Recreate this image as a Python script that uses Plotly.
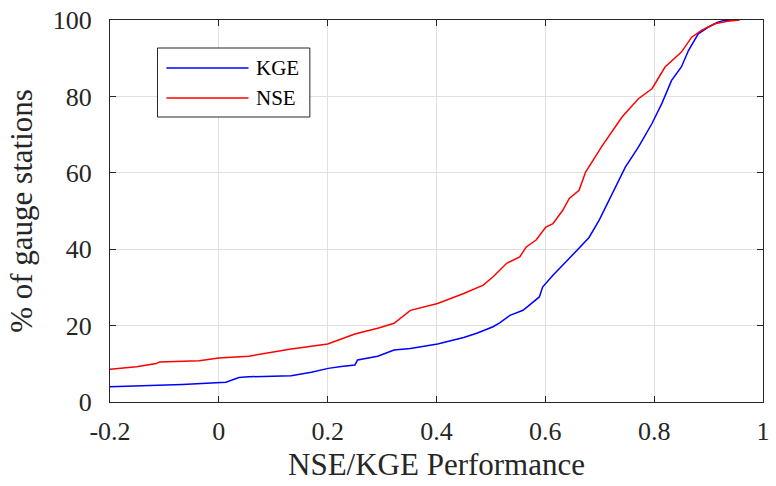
import plotly.graph_objects as go

kge_x = [-0.2, -0.12, -0.067, 0.013, 0.025, 0.037, 0.055, 0.10, 0.133, 0.17, 0.201, 0.225, 0.25, 0.255,
         0.292, 0.322, 0.352, 0.402, 0.45, 0.474, 0.504, 0.516, 0.535, 0.559, 0.577, 0.589, 0.595, 0.614,
         0.638, 0.656, 0.68, 0.699, 0.729, 0.747, 0.771, 0.796, 0.814, 0.832, 0.850, 0.863, 0.881, 0.899,
         0.917, 0.929, 0.95]
kge_y = [4.0, 4.3, 4.6, 5.2, 5.8, 6.4, 6.6, 6.8, 6.9, 7.8, 8.8, 9.3, 9.7, 11.0,
         12.0, 13.6, 14.0, 15.2, 16.9, 18.0, 19.7, 20.7, 22.7, 24.0, 26.2, 27.5, 30.1, 33.2,
         36.7, 39.3, 43.0, 47.6, 56.3, 61.5, 66.7, 72.9, 78.1, 84.2, 87.7, 92.0, 96.4, 98.1,
         99.4, 99.9, 100]

nse_x = [-0.2, -0.151, -0.115, -0.109, -0.036, 0.0, 0.055, 0.086, 0.13, 0.2, 0.25, 0.27, 0.292, 0.322,
         0.352, 0.402, 0.45, 0.486, 0.504, 0.529, 0.553, 0.565, 0.583, 0.601, 0.614, 0.632, 0.644, 0.662,
         0.674, 0.705, 0.741, 0.771, 0.796, 0.820, 0.850, 0.869, 0.887, 0.911, 0.935, 0.957]
nse_y = [8.6, 9.2, 10.1, 10.5, 10.8, 11.5, 12.0, 12.8, 13.8, 15.2, 17.8, 18.5, 19.3, 20.6,
         24.0, 25.8, 28.4, 30.6, 32.8, 36.3, 38.0, 40.6, 42.4, 45.8, 46.7, 50.2, 53.3, 55.4,
         60.2, 67.2, 74.6, 79.4, 82.0, 87.7, 91.6, 95.5, 97.3, 99.0, 99.7, 100]

x_ticks = [-0.2, 0, 0.2, 0.4, 0.6, 0.8, 1]
x_tick_labels = ["-0.2", "0", "0.2", "0.4", "0.6", "0.8", "1"]
y_ticks = [0, 20, 40, 60, 80, 100]

series_names = ["KGE", "NSE"]
series_colors = ["#0000ff", "#ff0000"]

FONT = "Liberation Serif"
TXT = "#262626"
W, H = 776, 486
L, R, T, B = 110, 6, 20, 84
pw, ph = W - L - R, H - T - B

fig = go.Figure()
for name, xs, ys, c in [("KGE", kge_x, kge_y, series_colors[0]), ("NSE", nse_x, nse_y, series_colors[1])]:
    fig.add_trace(go.Scatter(x=xs, y=ys, mode="lines", name=name,
                             line=dict(color=c, width=1.5), showlegend=False))

axis_common = dict(showline=True, linecolor=TXT, linewidth=1, mirror="ticks",
                   ticks="inside", ticklen=6, tickcolor=TXT, tickwidth=1,
                   showgrid=True, gridcolor="#e0e0e0", gridwidth=1, zeroline=False,
                   ticklabeloverflow="allow",
                   tickfont=dict(family=FONT, size=26, color=TXT))

fig.update_xaxes(range=[-0.2, 1], tickvals=x_ticks, ticktext=x_tick_labels, ticklabelstandoff=6,
                 title=dict(text="NSE/KGE Performance", font=dict(family=FONT, size=31, color=TXT), standoff=8),
                 **axis_common)
fig.update_yaxes(range=[0, 100], tickvals=y_ticks, ticklabelstandoff=12,
                 title=dict(text="% of gauge stations", font=dict(family=FONT, size=31, color=TXT), standoff=10),
                 **axis_common)

# custom legend (pixel -> paper coords)
def px(xp):
    return (xp - L) / pw
def py(yp):
    return (H - B - yp) / ph

shapes = [dict(type="rect", xref="paper", yref="paper", x0=px(158), x1=px(312), y0=py(117), y1=py(48),
               line=dict(color=TXT, width=1), fillcolor="white", layer="above")]
annotations = []
for i, (name, c) in enumerate(zip(series_names, series_colors)):
    yy = 68 + i * 30
    shapes.append(dict(type="line", xref="paper", yref="paper", x0=px(167), x1=px(250), y0=py(yy), y1=py(yy),
                       line=dict(color=c, width=1.5), layer="above"))
    annotations.append(dict(xref="paper", yref="paper", x=px(256), y=py(yy), text=name, showarrow=False,
                            xanchor="left", yanchor="middle",
                            font=dict(family=FONT, size=21, color="black")))

fig.update_layout(width=W, height=H, margin=dict(l=L, r=R, t=T, b=B),
                  paper_bgcolor="white", plot_bgcolor="white",
                  shapes=shapes, annotations=annotations)

fig.write_html("out.html")
